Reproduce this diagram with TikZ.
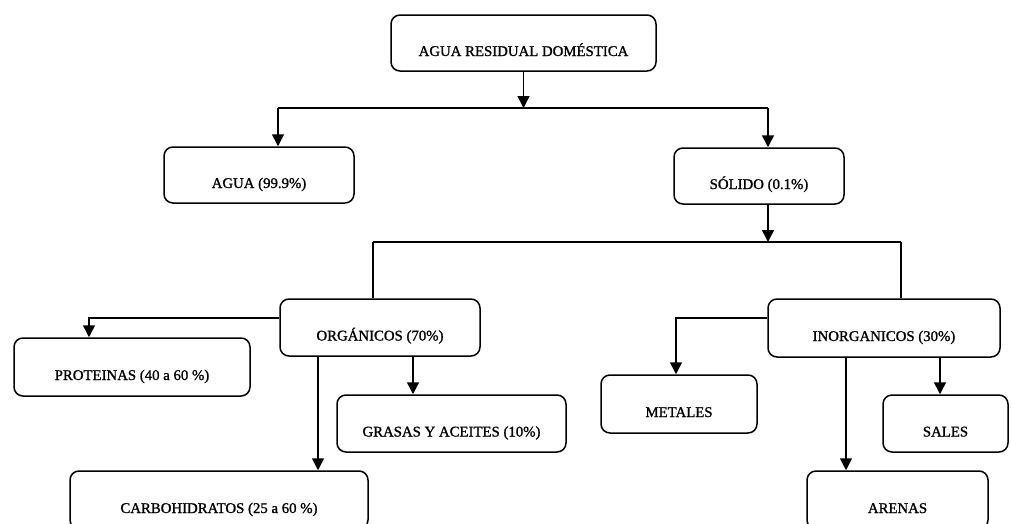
\documentclass[tikz,border=0pt]{standalone}
\usepackage{fontspec}
\setmainfont{Liberation Serif}[BoldFont={Liberation Serif}, BoldFeatures={FakeBold=1.2}]
\usetikzlibrary{arrows.meta}
\tikzset{
  box/.style={draw, line width=1.5pt, rounded corners=9pt, inner sep=0pt,
    font=\fontsize{14.8}{16}\selectfont\bfseries, text height=28pt, text depth=2pt, align=center},
  conn/.style={line width=1.5pt},
  arr/.style={conn, -{Triangle[length=12pt,width=12pt]}}
}
\begin{document}
\begin{tikzpicture}[x=1pt,y=-1pt]
\useasboundingbox (0,0) rectangle (1012,523);
\clip (0,0) rectangle (1012,523);
\node[box, minimum width=265pt, minimum height=56pt] (top) at (523.5,43) {AGUA RESIDUAL DOMÉSTICA};
\node[box, minimum width=190pt, minimum height=56pt] (agua) at (259,175) {AGUA (99.9\%)};
\node[box, minimum width=170pt, minimum height=56pt] (solido) at (759,176) {SÓLIDO (0.1\%)};
\node[box, minimum width=200pt, minimum height=57pt] (org) at (380,327.5) {ORGÁNICOS (70\%)};
\node[box, minimum width=232pt, minimum height=58pt] (inorg) at (884,328) {INORGANICOS (30\%)};
\node[box, minimum width=236pt, minimum height=58pt] (prot) at (132,367) {PROTEINAS (40 a 60 \%)};
\node[box, minimum width=229pt, minimum height=57pt] (grasas) at (451.5,423.5) {GRASAS Y ACEITES (10\%)};
\node[box, minimum width=156pt, minimum height=58pt] (metales) at (679,404) {METALES};
\node[box, minimum width=125pt, minimum height=57pt] (sales) at (945.5,423.5) {SALES};
\node[box, minimum width=298pt, minimum height=58pt] (carbo) at (219,500) {CARBOHIDRATOS (25 a 60 \%)};
\node[box, minimum width=181pt, minimum height=58pt] (arenas) at (897.5,500) {ARENAS};

\coordinate (hl) at (278,108);
\coordinate (hr) at (768,108);
\coordinate (sl) at (373,242);
\coordinate (sr) at (901,242);

\draw[arr] (top.south) -- (top.south |- hl);
\draw[conn] (hl) -- (hr);
\draw[arr] (hl) -- (hl |- agua.north);
\draw[arr] (hr) -- (hr |- solido.north);
\draw[arr] (hr |- solido.south) -- (hr |- sl);
\draw[conn] (sl) -- (sr);
\draw[conn] (sl) -- (sl |- org.north);
\draw[conn] (sr) -- (sr |- inorg.north);

\draw[arr] ([yshift=9.5pt]org.west) -| ([xshift=-43pt]prot.north);
\draw[arr] ([xshift=-38.5pt]grasas.north |- org.south) -- ([xshift=-38.5pt]grasas.north);
\draw[arr] ([xshift=99pt]carbo.north |- org.south) -- ([xshift=99pt]carbo.north);

\draw[arr] ([yshift=10pt]inorg.west) -| ([xshift=-3pt]metales.north);
\draw[arr] ([xshift=-5.5pt]sales.north |- inorg.south) -- ([xshift=-5.5pt]sales.north);
\draw[arr] ([xshift=-51.5pt]arenas.north |- inorg.south) -- ([xshift=-51.5pt]arenas.north);
\end{tikzpicture}
\end{document}
